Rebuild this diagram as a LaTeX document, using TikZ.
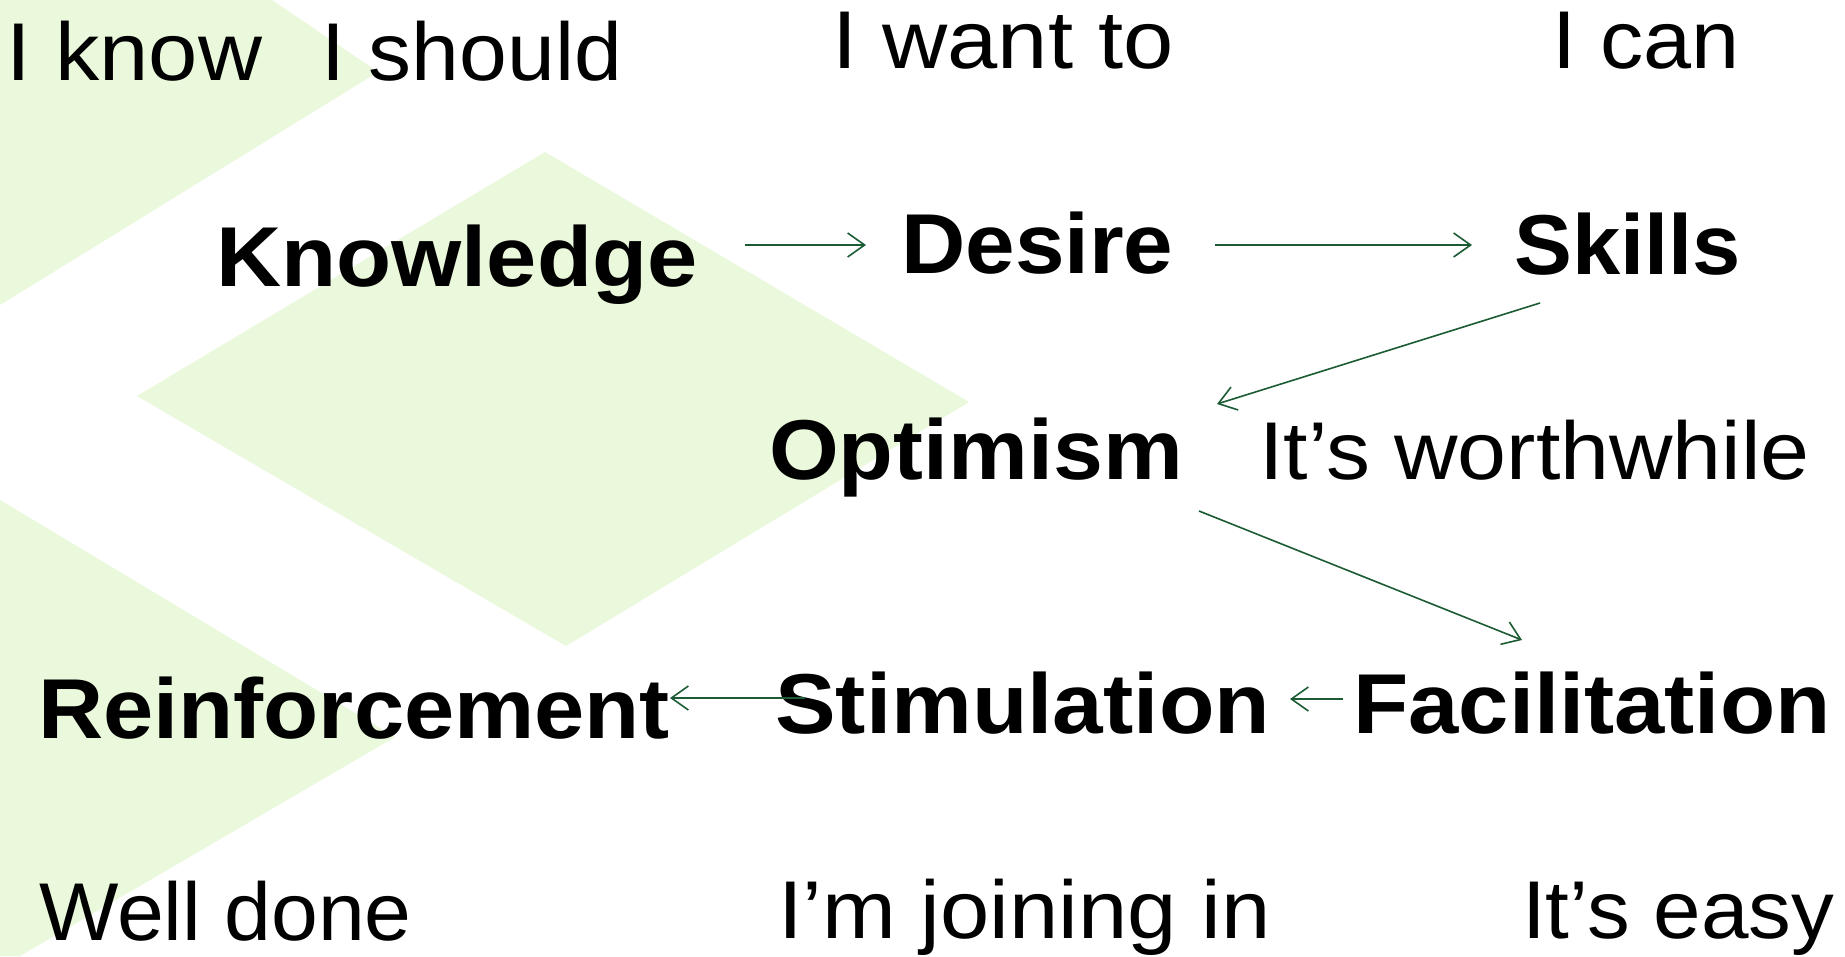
\documentclass[tikz,border=0pt]{standalone}
\usepackage{fontspec}
\setmainfont{Liberation Sans}[FakeStretch=1.08]
\usetikzlibrary{arrows.meta}
\definecolor{bgreen}{RGB}{234,248,219}
\definecolor{agreen}{RGB}{28,92,52}
\newcommand{\sx}[2]{\scalebox{#1}[1]{#2}}
\tikzset{
  phrase/.style={anchor=base west,inner sep=0pt,font=\fontsize{82}{90}\selectfont},
  concept/.style={anchor=base west,inner sep=0pt,font=\fontsize{85}{95}\selectfont\bfseries},
  arr/.style={draw=agreen,line width=1.6pt,-{Straight Barb[length=17pt,width=24pt,line width=1.6pt]}},
  backshape/.style={fill=bgreen,draw=none}
}
\begin{document}
\begin{tikzpicture}[x=1pt,y=-1pt]
\useasboundingbox (0,0) rectangle (1845,956);
\fill[white] (0,0) rectangle (1845,956);
% background shapes
\fill[backshape] (0,0) -- (272,0) -- (378,72) -- (0,305) -- cycle;
\fill[backshape] (545,152) -- (969,402) -- (566,646) -- (137,396) -- cycle;
\fill[backshape] (0,500) -- (395,737) -- (20,956) -- (0,956) -- cycle;
% phrases
\node[phrase] (iknow)    at (6,80)     {I know};
\node[phrase] (ishould)  at (321,80)   {\sx{0.97}{I should}};
\node[phrase] (iwant)    at (832,68)   {\sx{1.02}{I want to}};
\node[phrase] (ican)     at (1552,68)  {\sx{0.975}{I can}};
\node[phrase] (worth)    at (1259,479) {\sx{0.993}{It’s worthwhile}};
\node[phrase] (welldone) at (39,940)   {\sx{0.95}{Well done}};
\node[phrase] (joining)  at (778,938)  {I’m joining in};
\node[phrase] (easy)     at (1522,938) {\sx{0.965}{It’s easy}};
% concepts
\node[concept] (k)  at (216,286)  {\sx{0.983}{Knowledge}};
\node[concept] (d)  at (901,273)  {\sx{0.97}{Desire}};
\node[concept] (s)  at (1514,274) {\sx{0.945}{Skills}};
\node[concept] (o)  at (769,479)  {\sx{0.977}{Optimism}};
\node[concept] (r)  at (38,738)   {\sx{0.983}{Reinforcement}};
\node[concept] (st) at (775,733)  {\sx{0.99}{Stimulation}};
\node[concept] (f)  at (1353,733) {\sx{0.985}{Facilitation}};
% connector ends
\coordinate (k-out)  at (745,245);
\coordinate (d-in)   at (866,245);
\coordinate (d-out)  at (1215,245);
\coordinate (s-in)   at (1472,245);
\coordinate (s-out)  at (1540,303);
\coordinate (o-in)   at (1217,404);
\coordinate (o-out)  at (1199,511);
\coordinate (f-in)   at (1522,640);
\coordinate (f-out)  at (1343,699);
\coordinate (st-in)  at (1290,699);
\coordinate (st-out) at (805,698);
\coordinate (r-in)   at (670,698);
% connectors
\draw[arr] (k-out) -- (d-in);
\draw[arr] (d-out) -- (s-in);
\draw[arr] (s-out) -- (o-in);
\draw[arr] (o-out) -- (f-in);
\draw[arr] (f-out) -- (st-in);
\draw[arr] (st-out) -- (r-in);
\end{tikzpicture}
\end{document}
